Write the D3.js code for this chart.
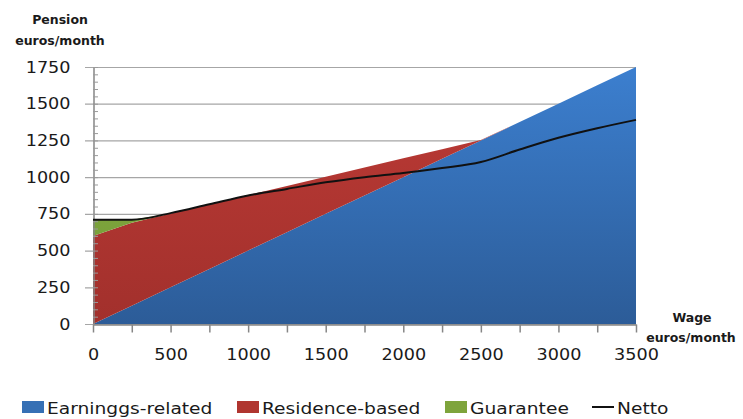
<!DOCTYPE html>
<html><head><meta charset="utf-8">
<script src="https://cdn.jsdelivr.net/npm/d3@7"></script>
<style>body{margin:0;background:#fff}svg{display:block}text{font-family:"DejaVu Sans",sans-serif}</style>
</head><body>
<svg id="c" width="743" height="419"></svg>
<script>
const wages = [0,250,500,750,1000,1250,1500,1750,2000,2250,2500,2750,3000,3250,3500];
const earnings = [0,125,250,375,500,625,750,875,1000,1125,1250,1375,1500,1625,1750];
const residence = [600,565,503,440,378,315,253,190,128,65,3,0,0,0,0];
const guarantee = [110,20,0,0,0,0,0,0,0,0,0,0,0,0,0];
const netto = [710,710,755,815,875,920,965,1000,1028,1062,1103,1188,1268,1333,1390];
const yTicks = [0,250,500,750,1000,1250,1500,1750];
const xLabels = [0,500,1000,1500,2000,2500,3000,3500];
const seriesNames = ["Earninggs-related","Residence-based","Guarantee","Netto"];

const svg = d3.select("#c");
const x = d3.scaleLinear().domain([0,3500]).range([93,636]);
const y = d3.scaleLinear().domain([0,1750]).range([324,67]);

const defs = svg.append("defs");
function grad(id, top, bottom){
  const g = defs.append("linearGradient").attr("id",id).attr("gradientUnits","userSpaceOnUse")
    .attr("x1",0).attr("y1",y(1750)).attr("x2",0).attr("y2",y(0));
  g.append("stop").attr("offset","0%").attr("stop-color",top);
  g.append("stop").attr("offset","100%").attr("stop-color",bottom);
}
grad("gB","#3c7fcf","#2c5c98");
grad("gR","#bd3b36","#a2302c");
grad("gG","#88b043","#739a36");

function stretch(sel, f){
  sel.each(function(){ const L=this.getComputedTextLength(); d3.select(this).attr("textLength",L*f).attr("lengthAdjust","spacingAndGlyphs"); });
}

// gridlines
svg.append("g").selectAll("line").data(yTicks).join("line")
  .attr("x1",85).attr("x2",636).attr("y1",d=>y(d)+0.5).attr("y2",d=>y(d)+0.5)
  .attr("stroke","#a6a6a6").attr("stroke-width",1.2);

const rows = wages.map((w,i)=>({w, e:earnings[i], r:residence[i], g:guarantee[i]}));
const stack = d3.stack().keys(["e","r","g"])(rows);
const fills = ["url(#gB)","url(#gR)","url(#gG)"];
const area = d3.area().x(d=>x(d.data.w)).y0(d=>y(d[0])).y1(d=>y(d[1]));
svg.append("g").selectAll("path").data(stack).join("path")
  .attr("d",area).attr("fill",(d,i)=>fills[i]);

// axes
const yAxis = d3.axisLeft(y).tickValues(yTicks).tickSize(0).tickPadding(23).tickFormat(d3.format("d"));
const ga = svg.append("g").attr("transform","translate(93.5,0)").call(yAxis);
ga.select(".domain").attr("stroke","#868686").attr("stroke-width",1.5);
ga.selectAll("text").attr("font-size",16).attr("fill","#1a1a1a").call(stretch,1.1);
// minor ticks inside
svg.append("g").selectAll("line").data(d3.range(0,1751,50)).join("line")
  .attr("x1",93).attr("x2",98).attr("y1",d=>y(d)+0.5).attr("y2",d=>y(d)+0.5)
  .attr("stroke","#9a9a9a").attr("stroke-width",1);

const xAxis = d3.axisBottom(x).tickValues(wages).tickSize(8).tickSizeOuter(0).tickFormat(d=>xLabels.includes(d)?d:"");
const gx = svg.append("g").attr("transform","translate(0,324.5)").call(xAxis);
gx.select(".domain").attr("stroke","#868686").attr("stroke-width",1.5);
gx.selectAll(".tick line").attr("stroke","#868686").attr("stroke-width",1.5);
gx.selectAll("text").attr("font-size",16).attr("fill","#1a1a1a").attr("dy","1.55em").call(stretch,1.1);

// netto line
svg.append("path").datum(wages.map((w,i)=>[w,netto[i]]))
  .attr("d",d3.line().x(d=>x(d[0])).y(d=>y(d[1])).curve(d3.curveMonotoneX))
  .attr("fill","none").attr("stroke","#111").attr("stroke-width",2);

// axis titles
const t1 = svg.append("text").attr("text-anchor","middle").attr("font-size",12.5).attr("font-weight","bold").attr("fill","#1a1a1a");
t1.append("tspan").attr("x",60).attr("y",24).text("Pension");
t1.append("tspan").attr("x",60).attr("y",45).text("euros/month");
const t2 = svg.append("text").attr("text-anchor","middle").attr("font-size",12.5).attr("font-weight","bold").attr("fill","#1a1a1a");
t2.append("tspan").attr("x",692).attr("y",322).text("Wage");
t2.append("tspan").attr("x",691).attr("y",342).text("euros/month");

// legend
const legX = [22,237,445,592];
const legColors = ["#3670b5","#b0352f","#7ea43c",null];
const lg = svg.append("g");
seriesNames.forEach((n,i)=>{
  if(legColors[i]){
    lg.append("rect").attr("x",legX[i]).attr("y",401).attr("width",22).attr("height",12)
      .attr("fill",legColors[i]);
  } else {
    lg.append("line").attr("x1",legX[i]).attr("x2",legX[i]+22).attr("y1",407).attr("y2",407)
      .attr("stroke","#111").attr("stroke-width",2);
  }
  lg.append("text").attr("x",legX[i]+25).attr("y",414).attr("font-size",16.5).attr("fill","#1a1a1a").text(n).call(stretch,1.13);
});
</script>
</body></html>
